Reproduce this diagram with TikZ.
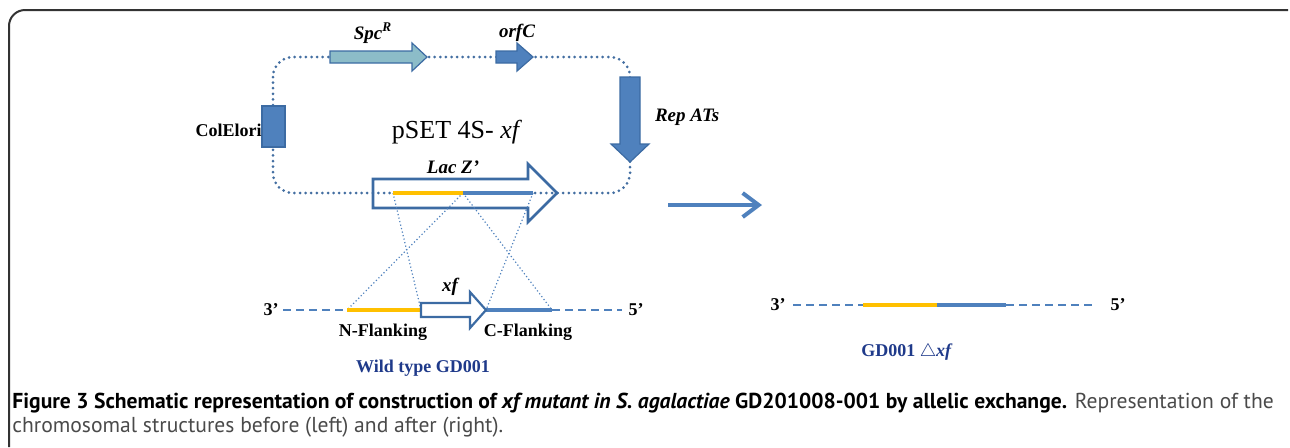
\documentclass[tikz,border=0pt]{standalone}
\usepackage{fontspec}
\setmainfont{Liberation Serif}
\newfontfamily\capfont{PT Sans}
\usetikzlibrary{arrows.meta}

\definecolor{geneblue}{HTML}{4F81BD}
\definecolor{geneedge}{HTML}{3C6BA3}
\definecolor{geneteal}{HTML}{8CBCC8}
\definecolor{flankyel}{HTML}{FFC000}
\definecolor{straincol}{HTML}{1F3A8A}
\definecolor{capgray}{HTML}{4A4A4A}

\tikzset{
  plasmid/.style={geneblue!85!black,line width=1.5pt,dash pattern=on 0pt off 2.8pt,line cap=round},
  cross/.style={geneblue,line width=0.6pt,dash pattern=on 0.6pt off 1.2pt},
  chrom/.style={geneblue,line width=1.1pt,dash pattern=on 4pt off 2.5pt},
  flank/.style={line width=2pt},
  gene/.style={draw=geneedge,line width=0.6pt,line join=miter},
  hollow/.style={draw=geneedge,line width=1.3pt,line join=miter},
  lbl/.style={font=\fontsize{9.5}{11}\selectfont\bfseries\itshape},
  tag/.style={font=\fontsize{9}{11}\selectfont\bfseries},
}

\begin{document}
\begin{tikzpicture}[x=0.5pt,y=-0.5pt]
  \useasboundingbox (0,0) rectangle (1290,447);
  % frame
  \draw[black!80,line width=1pt,rounded corners=8pt] (9,447) -- (9,10) -- (1288,10);

  % plasmid backbone
  \draw[plasmid,rounded corners=10pt] (273,57) rectangle (630,193);

  % genes on the plasmid
  \fill[geneteal,gene] (330,51) -- (412,51) -- (412,43) -- (427,57) -- (412,71) -- (412,63) -- (330,63) -- cycle;
  \fill[geneblue,gene] (496,51) -- (517,51) -- (517,43) -- (533,57) -- (517,71) -- (517,63) -- (496,63) -- cycle;
  \fill[geneblue,gene] (620,77) -- (640,77) -- (640,144) -- (649,144) -- (630,162) -- (611,144) -- (620,144) -- cycle;
  \fill[geneblue,gene] (262,106) rectangle (285,147);
  \draw[hollow] (373,179) -- (528,179) -- (528,164) -- (557,193) -- (528,222) -- (528,208) -- (373,208) -- cycle;

  \node[lbl] (spc) at (373,33) {Spc\textsuperscript{R}};
  \node[lbl] (orf) at (517,33) {orfC};
  \node[lbl,anchor=west] (rep) at (648,117) {Rep ATs};
  \node[tag,anchor=east,inner sep=0pt] (col) at (262,130) {ColElori};
  \node[font=\fontsize{13}{15}\selectfont] (pset) at (457,132) {pSET 4S- \textit{xf}};
  \node[lbl] (lac) at (453,167) {Lac Z’};

  % homologous arms in the plasmid
  \coordinate (pn1) at (393,193);
  \coordinate (pm) at (463,193);
  \coordinate (pc2) at (533,193);
  % wild type chromosome
  \coordinate (wl) at (283,310);
  \coordinate (wn1) at (347,310);
  \coordinate (wn2) at (421,310);
  \coordinate (wc1) at (486,310);
  \coordinate (wc2) at (552,310);
  \coordinate (wr) at (622,310);

  \draw[cross] (pn1) -- (wn2);
  \draw[cross] (pm) -- (wn1);
  \draw[cross] (pm) -- (wc2);
  \draw[cross] (pc2) -- (wc1);

  \draw[flank,flankyel] (pn1) -- (pm);
  \draw[flank,geneblue] (pm) -- (pc2);

  \draw[chrom] (wl) -- (wn1);
  \draw[chrom] (wc2) -- (wr);
  \draw[flank,flankyel] (wn1) -- (wn2);
  \draw[flank,geneblue] (wc1) -- (wc2);
  \draw[hollow,line width=1.1pt] (421,303) -- (470,303) -- (470,292) -- (486,310) -- (470,328) -- (470,317) -- (421,317) -- cycle;

  \node[tag] (w3) at (271,310) {3’};
  \node[tag] (w5) at (636,310) {5’};
  \node[lbl] (xf) at (450,287) {xf};
  \node[tag] (nfl) at (383,332) {N-Flanking};
  \node[tag] (cfl) at (528,332) {C-Flanking};
  \node[tag,text=straincol] (wt) at (423,368) {Wild type GD001};

  % exchange
  \coordinate (ea) at (668,205);
  \coordinate (eb) at (762,205);
  \draw[geneblue,line width=2pt,-{Straight Barb[length=8pt,width=12pt]}] (ea) -- (eb);

  % mutant chromosome
  \coordinate (ml) at (793,305);
  \coordinate (mn) at (863,305);
  \coordinate (mm) at (937,305);
  \coordinate (mc) at (1006,305);
  \coordinate (mr) at (1092,305);
  \draw[chrom] (ml) -- (mn);
  \draw[chrom] (mc) -- (mr);
  \draw[flank,flankyel] (mn) -- (mm);
  \draw[flank,geneblue] (mm) -- (mc);
  \node[tag] (m3) at (778,305) {3’};
  \node[tag] (m5) at (1118,305) {5’};
  \node[tag,text=straincol] (mut) at (907,352) {GD001 $\triangle$\textit{xf}};

  % caption
  \node[anchor=base west,inner sep=0pt,font=\capfont\fontsize{10.8}{13}\selectfont] (cap1) at (12,408)
    {\textbf{Figure 3 Schematic representation of construction of \textit{xf mutant in S. agalactiae} GD201008-001 by allelic exchange.} \textcolor{capgray}{Representation of the}};
  \node[anchor=base west,inner sep=0pt,font=\capfont\fontsize{10.8}{13}\selectfont,text=capgray] (cap2) at (12,432)
    {chromosomal structures before (left) and after (right).};
\end{tikzpicture}
\end{document}
